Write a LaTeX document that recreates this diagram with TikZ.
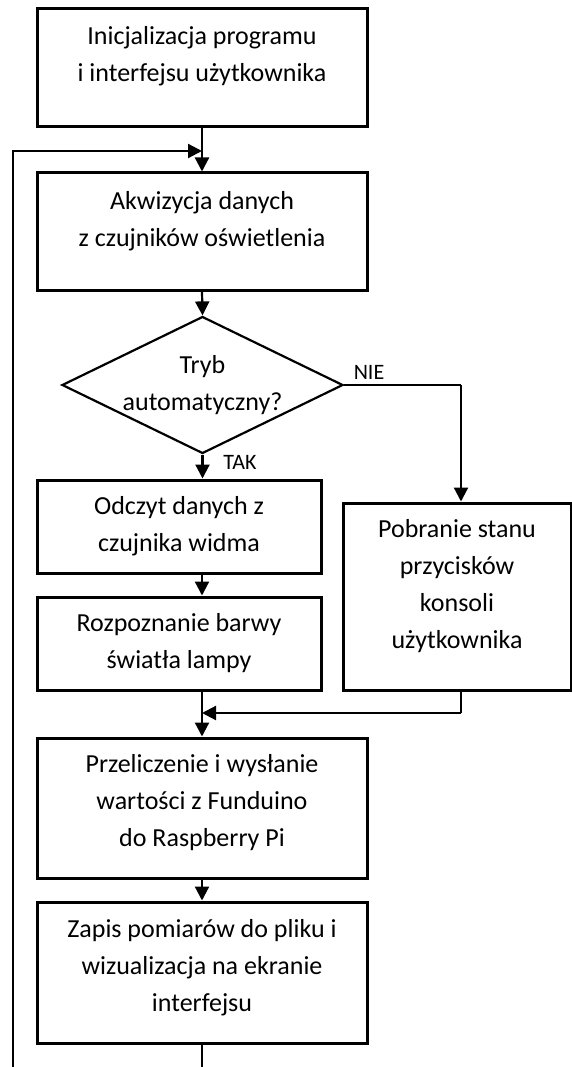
\documentclass[tikz,border=0pt]{standalone}
\usepackage{fontspec}
\setmainfont{Carlito}
\usetikzlibrary{shapes.geometric,arrows.meta}
\begin{document}
\begin{tikzpicture}[x=1pt,y=-1pt,
  box/.style={draw, line width=3pt, rectangle, inner sep=0pt},
  dia/.style={draw, line width=2.2pt, diamond, inner sep=0pt, minimum width=281pt, minimum height=137pt},
  txt/.style={align=center, font=\fontsize{26}{37}\selectfont, inner sep=0pt},
  lbl/.style={font=\fontsize{22}{24}\selectfont, inner sep=0pt},
  conn/.style={line width=2.2pt},
  arr/.style={conn, -{Triangle[length=14pt,width=14pt]}}]
\useasboundingbox (0,0) rectangle (572,1067);
% boxes
\node[box, minimum width=330pt, minimum height=118pt] (b1) at (202,68) {};
\node[box, minimum width=330pt, minimum height=117pt] (b2) at (202,231.5) {};
\node[dia] (dec) at (202.5,385) {};
\node[box, minimum width=284pt, minimum height=93pt] (b3) at (179,526.5) {};
\node[box, minimum width=284pt, minimum height=93pt] (b4) at (179,643.5) {};
\node[box, minimum width=228pt, minimum height=187pt] (b5) at (457,596.5) {};
\node[box, minimum width=330pt, minimum height=140pt] (b6) at (202,808) {};
\node[box, minimum width=330pt, minimum height=141pt] (b7) at (202,972.5) {};
% texts
\node[txt] (t1) at (202,56) {Inicjalizacja programu\\ i interfejsu użytkownika};
\node[txt] (t2) at (202,221) {Akwizycja danych\\ z czujników oświetlenia};
\node[txt] (td) at (202.5,385.5) {Tryb\\ automatyczny?};
\node[txt] (t3) at (179,526.5) {Odczyt danych z\\ czujnika widma};
\node[txt] (t4) at (179,643.5) {Rozpoznanie barwy\\ światła lampy};
\node[txt] (t5) at (457,586) {Pobranie stanu\\ przycisków\\ konsoli\\ użytkownika};
\node[txt] (t6) at (202,803) {Przeliczenie i wysłanie\\ wartości z Funduino\\ do Raspberry Pi};
\node[txt] (t7) at (202,968) {Zapis pomiarów do pliku i\\ wizualizacja na ekranie\\ interfejsu};
% labels
\node[lbl] (nie) at (369,372) {NIE};
\node[lbl] (tak) at (240,462) {TAK};
% helper coordinates
\coordinate (lb) at (13,1067);
\coordinate (lt) at (13,151);
\coordinate (n1) at (461,385);
\coordinate (m1) at (461,713);
% connectors
\draw[arr] (b1.south) -- (b2.north);
\draw[arr] (lb) -- (lt) -- (b1.south |- lt);
\draw[arr] (b2.south) -- (dec.north);
\draw[arr] (dec.south) -- (dec.south |- b3.north);
\draw[arr] (b1.south |- b3.south) -- (b1.south |- b4.north);
\draw[conn] (dec.east) -- (n1);
\draw[arr] (n1) -- (n1 |- b5.north);
\draw[conn] (n1 |- b5.south) -- (m1);
\draw[arr] (m1) -- (b1.south |- m1);
\draw[arr] (b1.south |- b4.south) -- (b6.north);
\draw[arr] (b6.south) -- (b7.north);
\draw[conn] (b7.south) -- (b1.south |- lb);
\end{tikzpicture}
\end{document}
